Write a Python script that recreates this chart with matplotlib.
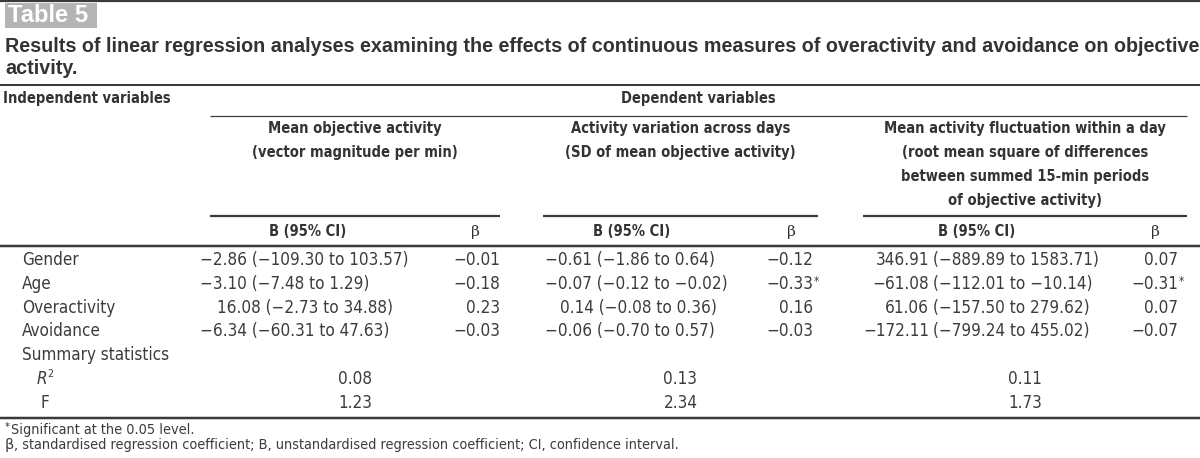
import matplotlib
matplotlib.use("Agg")
import matplotlib.pyplot as plt
from matplotlib import font_manager
from matplotlib.font_manager import FontProperties
from matplotlib.patches import Rectangle

# ---------------- data ----------------
table_label = "Table 5"
title_lines = [
    "Results of linear regression analyses examining the effects of continuous measures of overactivity and avoidance on objective",
    "activity.",
]
row_labels = ["Gender", "Age", "Overactivity", "Avoidance"]
summary_label = "Summary statistics"
outcome_titles = [
    ["Mean objective activity", "(vector magnitude per min)"],
    ["Activity variation across days", "(SD of mean objective activity)"],
    ["Mean activity fluctuation within a day", "(root mean square of differences",
     "between summed 15-min periods", "of objective activity)"],
]
b_mean = [-2.86, -3.10, 16.08, -6.34]
ci_mean_lo = [-109.30, -7.48, -2.73, -60.31]
ci_mean_hi = [103.57, 1.29, 34.88, 47.63]
beta_mean = [-0.01, -0.18, 0.23, -0.03]
sig_mean = [False, False, False, False]

b_var = [-0.61, -0.07, 0.14, -0.06]
ci_var_lo = [-1.86, -0.12, -0.08, -0.70]
ci_var_hi = [0.64, -0.02, 0.36, 0.57]
beta_var = [-0.12, -0.33, 0.16, -0.03]
sig_var = [False, True, False, False]

b_fluc = [346.91, -61.08, 61.06, -172.11]
ci_fluc_lo = [-889.89, -112.01, -157.50, -799.24]
ci_fluc_hi = [1583.71, -10.14, 279.62, 455.02]
beta_fluc = [0.07, -0.31, 0.07, -0.07]
sig_fluc = [False, True, False, False]

r_squared = [0.08, 0.13, 0.11]
f_values = [1.23, 2.34, 1.73]

footnotes = [
    "* Significant at the 0.05 level.",
    "β, standardised regression coefficient; B, unstandardised regression coefficient; CI, confidence interval.",
]

# ---------------- fonts ----------------
def pick_condensed(bold, italic=False):
    best = None
    for f in font_manager.fontManager.ttflist:
        n = f.name
        fn = f.fname.lower()
        if "mono" in n.lower() or "serif" in n.lower() or "cjk" in n.lower():
            continue
        cond = ("narrow" in n.lower() or "condensed" in n.lower() or "condensed" in fn
                or "narrow" in fn or f.stretch in ("condensed", "semi-condensed"))
        if not cond:
            continue
        if italic and f.style == "normal":
            continue
        if not italic and f.style != "normal":
            continue
        w = f.weight if isinstance(f.weight, int) else (700 if "bold" in str(f.weight) else 400)
        if bold and w < 600:
            continue
        if not bold and w >= 600:
            continue
        if "semi" in fn or "extra" in fn or "ultra" in fn:
            continue
        score = abs(w - (700 if bold else 400))
        if best is None or score < best[0]:
            best = (score, f.fname)
    return best[1] if best else None

def has_font(name):
    try:
        font_manager.findfont(FontProperties(family=name), fallback_to_default=False)
        return True
    except Exception:
        return False

WIDE = "Liberation Sans" if has_font("Liberation Sans") else "DejaVu Sans"
reg_file = pick_condensed(False)
bold_file = pick_condensed(True)
ital_file = pick_condensed(False, italic=True)

def body_fp(size):
    if reg_file:
        return FontProperties(fname=reg_file, size=size)
    return FontProperties(family=WIDE, size=size)

def ital_fp(size):
    if ital_file:
        return FontProperties(fname=ital_file, size=size)
    return FontProperties(family=WIDE, style="italic", size=size)

def head_fp(size):
    if bold_file:
        return FontProperties(fname=bold_file, size=size)
    return FontProperties(family=WIDE, weight="bold", size=size)

def wide_bold_fp(size):
    return FontProperties(family=WIDE, weight="bold", size=size)

def fmt(v):
    return f"{v:.2f}".replace("-", "\u2212")

# ---------------- figure ----------------
W, H = 1200, 458
fig = plt.figure(figsize=(W / 100, H / 100), dpi=100)
ax = fig.add_axes([0, 0, 1, 1])
ax.set_xlim(0, W)
ax.set_ylim(H, 0)
ax.axis("off")
fig.canvas.draw()
renderer = fig.canvas.get_renderer()

def fit_size(s, fp_maker, target_px, base=12.0):
    size = base
    for _ in range(3):
        t = ax.text(0, 0, s, fontproperties=fp_maker(size))
        w = t.get_window_extent(renderer).width
        t.remove()
        size = size * target_px / w
    return size

body_fs = fit_size("\u22122.86 (\u2212109.30 to 103.57)", body_fp, 208)
head_fs = fit_size("Mean objective activity", head_fp, 174)
title_fs = fit_size(title_lines[0], wide_bold_fp, 1192)
foot_fs = fit_size(footnotes[1][1:], body_fp, 662)
tab_fs = fit_size(table_label, wide_bold_fp, 80)

TXT = "#3c3c3c"
HEAD = "#333333"
LINE = "#3a3a3a"

def hline(y, x0, x1, px):
    ax.plot([x0, x1], [y, y], color=LINE, lw=px * 0.72, solid_capstyle="butt")

# rules
hline(1, 0, W, 2.2)
hline(85, 0, W, 2.0)
hline(116, 210, 1187, 1.2)
group_spans = [(210, 500), (543, 818), (863, 1187)]
for x0, x1 in group_spans:
    hline(216, x0, x1, 2.2)
hline(246, 0, W, 2.5)
hline(418, 0, W, 2.5)

# table label box
ax.add_patch(Rectangle((5, 3), 92, 25, facecolor="#b4b4b4", edgecolor="none"))
ax.text(8, 16, table_label, fontproperties=wide_bold_fp(tab_fs), color="white",
        ha="left", va="center")

# title
for i, line in enumerate(title_lines):
    ax.text(5, 47 + 21 * i, line, fontproperties=wide_bold_fp(title_fs),
            color=HEAD, ha="left", va="center")

# headers
ax.text(3, 99, "Independent variables", fontproperties=head_fp(head_fs),
        color=HEAD, ha="left", va="center")
ax.text(698, 99, "Dependent variables", fontproperties=head_fp(head_fs),
        color=HEAD, ha="center", va="center")
group_centers = [(a + b) / 2 for a, b in group_spans]
for gc, lines in zip(group_centers, outcome_titles):
    for j, ln in enumerate(lines):
        ax.text(gc, 129 + 24 * j, ln, fontproperties=head_fp(head_fs),
                color=HEAD, ha="center", va="center")

b_head_x = [308, 632, 977]
beta_head_x = [475, 791, 1155]
for bx, px in zip(b_head_x, beta_head_x):
    ax.text(bx, 231, "B (95% CI)", fontproperties=head_fp(head_fs),
            color=HEAD, ha="center", va="center")
    ax.text(px, 232, "β", fontsize=head_fs * 1.05, family="DejaVu Serif",
            color=HEAD, ha="center", va="center")

# body
row_y = [260, 284, 308, 331]
summary_y = 355
r2_y, f_y = 379, 403

for y, lab in zip(row_y, row_labels):
    ax.text(22, y, lab, fontproperties=body_fp(body_fs), color=TXT, ha="left", va="center")
ax.text(22, summary_y, summary_label, fontproperties=body_fp(body_fs), color=TXT,
        ha="left", va="center")
ax.text(37, r2_y, "R", fontproperties=ital_fp(body_fs), color=TXT, ha="left", va="center")
ax.text(47, r2_y - 5, "2", fontproperties=body_fp(body_fs * 0.62), color=TXT,
        ha="left", va="center")
ax.text(40, f_y, "F", fontproperties=body_fp(body_fs), color=TXT, ha="left", va="center")

groups = [
    (b_mean, ci_mean_lo, ci_mean_hi, beta_mean, sig_mean),
    (b_var, ci_var_lo, ci_var_hi, beta_var, sig_var),
    (b_fluc, ci_fluc_lo, ci_fluc_hi, beta_fluc, sig_fluc),
]
left_x = [200, 545, None]
pos_shift = [17, 15, 0]
beta_right = [500, 813, 1178]

for g, (bs, los, his, betas, sigs) in enumerate(groups):
    for i, y in enumerate(row_y):
        est = fmt(bs[i])
        ci = f"({fmt(los[i])} to {fmt(his[i])})"
        if left_x[g] is not None:
            x = left_x[g] + (pos_shift[g] if bs[i] >= 0 else 0)
            ax.text(x, y, f"{est} {ci}", fontproperties=body_fp(body_fs), color=TXT,
                    ha="left", va="center")
        else:
            ax.text(929, y, est, fontproperties=body_fp(body_fs), color=TXT,
                    ha="right", va="center")
            ax.text(933, y, ci, fontproperties=body_fp(body_fs), color=TXT,
                    ha="left", va="center")
        ax.text(beta_right[g], y, fmt(betas[i]), fontproperties=body_fp(body_fs),
                color=TXT, ha="right", va="center")
        if sigs[i]:
            ax.text(beta_right[g] + 0.5, y - 3, "*", fontproperties=body_fp(body_fs * 0.7),
                    color=TXT, ha="left", va="center")
    ax.text(group_centers[g], r2_y, fmt(r_squared[g]), fontproperties=body_fp(body_fs),
            color=TXT, ha="center", va="center")
    ax.text(group_centers[g], f_y, fmt(f_values[g]), fontproperties=body_fp(body_fs),
            color=TXT, ha="center", va="center")

# footnotes
ax.text(5, 427, "*", fontproperties=body_fp(foot_fs * 0.8), color=TXT, ha="left", va="center")
ax.text(11, 430, footnotes[0][2:], fontproperties=body_fp(foot_fs), color=TXT,
        ha="left", va="center")
ax.text(14, 445, footnotes[1][1:], fontproperties=body_fp(foot_fs), color=TXT,
        ha="left", va="center")
ax.text(5, 445, footnotes[1][0], fontsize=foot_fs, family="DejaVu Sans", color=TXT,
        ha="left", va="center")

fig.savefig("out.png", dpi=100)
